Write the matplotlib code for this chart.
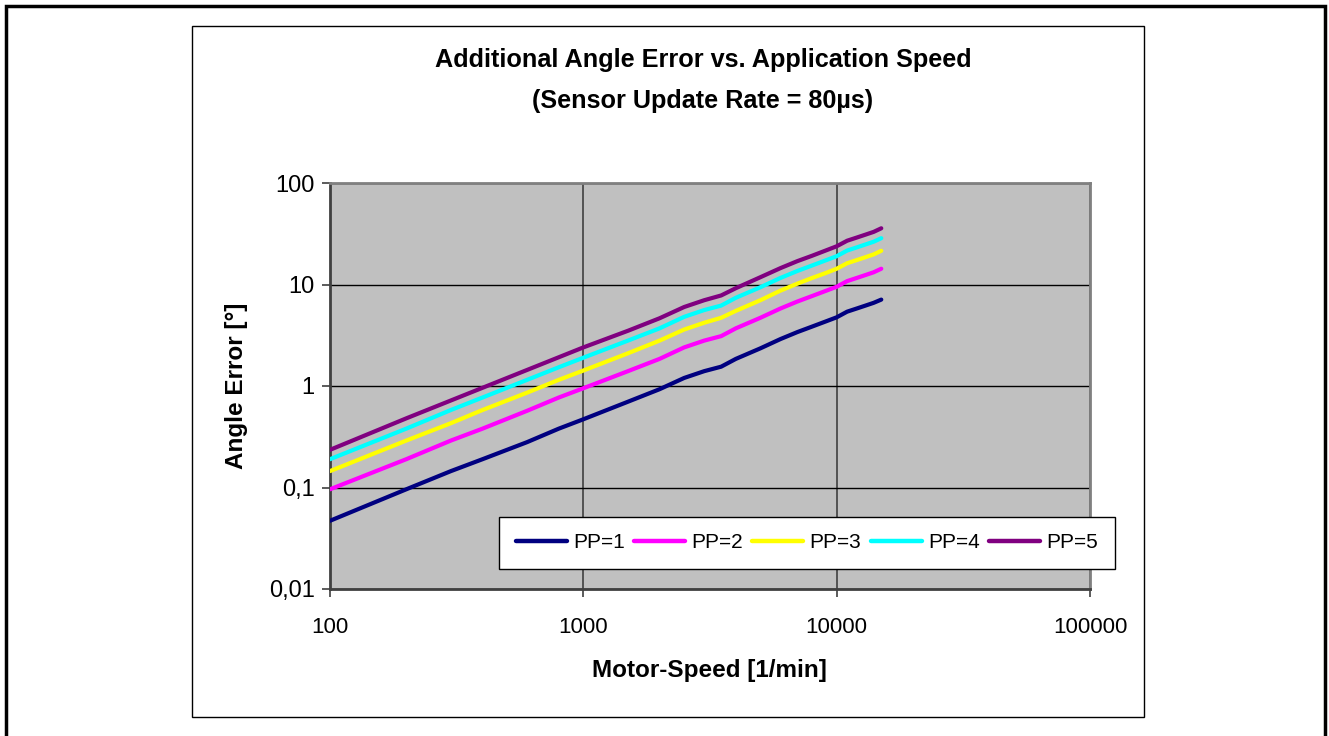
import matplotlib.pyplot as plt
from matplotlib.patches import Rectangle
from matplotlib.ticker import FixedLocator, FixedFormatter, NullLocator

plt.rcParams['font.family'] = ['Liberation Sans', 'DejaVu Sans']

speed = [100, 200, 300, 400, 600, 800, 1000, 1500, 2000, 2500, 3000, 3500, 4000,
         5000, 6000, 7000, 8000, 9000, 10000, 11000, 12000, 13000, 14000, 15000]

pp1 = [0.047, 0.096, 0.145, 0.19, 0.28, 0.38, 0.47, 0.70, 0.93, 1.2, 1.4, 1.55, 1.85,
       2.35, 2.9, 3.4, 3.85, 4.3, 4.75, 5.4, 5.8, 6.2, 6.6, 7.1]
pp2 = [0.096, 0.19, 0.29, 0.38, 0.57, 0.77, 0.95, 1.4, 1.85, 2.4, 2.8, 3.1, 3.7,
       4.7, 5.8, 6.8, 7.7, 8.6, 9.5, 10.8, 11.6, 12.4, 13.2, 14.3]
pp3 = [0.145, 0.29, 0.43, 0.58, 0.86, 1.15, 1.42, 2.1, 2.8, 3.6, 4.2, 4.7, 5.5,
       7.0, 8.7, 10.2, 11.6, 12.9, 14.3, 16.2, 17.4, 18.6, 19.8, 21.5]
pp4 = [0.19, 0.38, 0.58, 0.77, 1.15, 1.53, 1.9, 2.8, 3.7, 4.8, 5.6, 6.2, 7.4,
       9.4, 11.6, 13.6, 15.4, 17.2, 19.0, 21.6, 23.2, 24.8, 26.4, 28.6]
pp5 = [0.235, 0.48, 0.72, 0.96, 1.44, 1.92, 2.4, 3.5, 4.65, 6.0, 7.0, 7.8, 9.2,
       11.8, 14.5, 17.0, 19.2, 21.5, 23.8, 27.0, 29.0, 31.0, 33.0, 35.8]

series = [pp1, pp2, pp3, pp4, pp5]
names = ['PP=1', 'PP=2', 'PP=3', 'PP=4', 'PP=5']
colors = ['#000080', '#FF00FF', '#FFFF00', '#00FFFF', '#800080']

yticks = [0.01, 0.1, 1, 10, 100]
ylabels = ['0,01', '0,1', '1', '10', '100']
xticks = [100, 1000, 10000, 100000]
xlabels = ['100', '1000', '10000', '100000']

W, H = 1329, 736
fig = plt.figure(figsize=(W / 100, H / 100), dpi=100)

# outer frame and chart frame
fig.patches.append(Rectangle((6 / W, -0.05), 1319 / W, 1.05 - 6 / H, transform=fig.transFigure,
                             fill=False, edgecolor='black', linewidth=2.5))
fig.patches.append(Rectangle((192 / W, 1 - 717 / H), 952 / W, 691 / H, transform=fig.transFigure,
                             fill=False, edgecolor='black', linewidth=1))

ax = fig.add_axes([330 / W, 1 - 589 / H, 760 / W, 406 / H])
ax.set_facecolor('#C0C0C0')
ax.set_xscale('log')
ax.set_yscale('log')
ax.set_xlim(100, 100000)
ax.set_ylim(0.01, 100)

for vals, name, c in zip(series, names, colors):
    ax.plot(speed, vals, color=c, lw=3, label=name, solid_capstyle='round', zorder=3)

ax.xaxis.set_major_locator(FixedLocator(xticks))
ax.xaxis.set_major_formatter(FixedFormatter(xlabels))
ax.yaxis.set_major_locator(FixedLocator(yticks))
ax.yaxis.set_major_formatter(FixedFormatter(ylabels))
ax.xaxis.set_minor_locator(NullLocator())
ax.yaxis.set_minor_locator(NullLocator())
ax.tick_params(axis='both', which='major', direction='out', length=6, width=1.2,
               color='#404040', pad=5)
ax.tick_params(axis='y', labelsize=17)
ax.tick_params(axis='x', labelsize=16, pad=14)
ax.grid(True, axis='y', color='black', lw=1)
ax.grid(True, axis='x', color='#404040', lw=1.2)
for s in ax.spines.values():
    s.set_color('#808080')
    s.set_linewidth(2)
ax.spines['left'].set_color('#404040')
ax.spines['bottom'].set_color('#404040')

fig.text(703 / W, 1 - 60 / H, 'Additional Angle Error vs. Application Speed',
         ha='center', va='center', fontsize=18.2, fontweight='bold')
fig.text(703 / W, 1 - 101 / H, '(Sensor Update Rate = 80µs)',
         ha='center', va='center', fontsize=18.2, fontweight='bold')
fig.text(236 / W, 1 - 386 / H, 'Angle Error [°]', rotation=90,
         ha='center', va='center', fontsize=17.5, fontweight='bold')
fig.text(709 / W, 1 - 670 / H, 'Motor-Speed [1/min]',
         ha='center', va='center', fontsize=17.5, fontweight='bold')

leg = fig.legend(loc='center', bbox_to_anchor=(807 / W, 1 - 543 / H), ncol=5,
                 frameon=True, fancybox=False, fontsize=15, handlelength=2.45,
                 columnspacing=0.45, handletextpad=0.3, borderpad=0.8, borderaxespad=0)
leg.get_frame().set_edgecolor('black')
leg.get_frame().set_linewidth(1)
leg.get_frame().set_alpha(1)
for line in leg.get_lines():
    line.set_linewidth(3.2)

fig.savefig('out.png', dpi=100)
